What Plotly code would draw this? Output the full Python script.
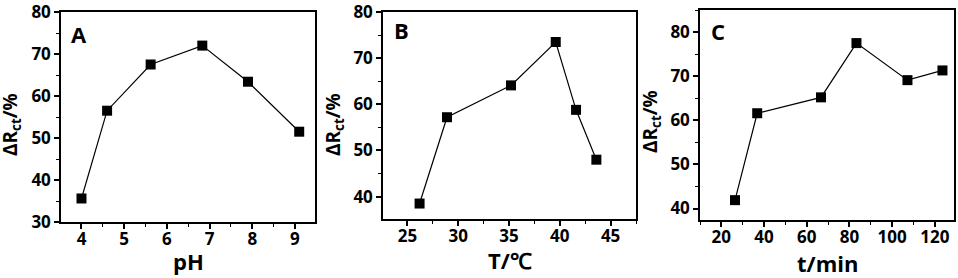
import plotly.graph_objects as go

# Panel A: pH
ph = [4.0, 4.6, 5.62, 6.83, 7.9, 9.1]
ph_val = [35.6, 56.5, 67.5, 72.0, 63.4, 51.5]
# Panel B: temperature
temp = [26.2, 28.9, 35.2, 39.6, 41.6, 43.6]
temp_val = [38.5, 57.2, 64.1, 73.5, 58.8, 48.0]
# Panel C: time
tmin = [26.4, 36.8, 66.7, 83.3, 107.2, 123.6]
tmin_val = [41.9, 61.6, 65.2, 77.5, 69.1, 71.3]

panel_letters = ["A", "B", "C"]
x_titles = ["pH", "T/℃", "t/min"]
y_title = "ΔR<sub>ct</sub>/%"

W, H = 958, 278
FONT = "Open Sans"

fig = go.Figure()

series = [(ph, ph_val), (temp, temp_val), (tmin, tmin_val)]
for i, (xs, ys) in enumerate(series):
    fig.add_trace(go.Scatter(
        x=xs, y=ys, mode="lines+markers",
        line=dict(color="black", width=1.2),
        marker=dict(symbol="square", size=10, color="black"),
        xaxis="x" if i == 0 else f"x{i+1}",
        yaxis="y" if i == 0 else f"y{i+1}",
        showlegend=False,
    ))

def px_x(p):
    return p / W

def px_y(p):
    return 1 - p / H

xdomains = [[px_x(61), px_x(315)], [px_x(383), px_x(636)], [px_x(700), px_x(954)]]
ydomains = [[px_y(222), px_y(12)], [px_y(219), px_y(12)], [px_y(220), px_y(10)]]
xranges = [[3.52, 9.47], [22.6, 47.5], [10, 129]]
yranges = [[30, 80], [35.15, 80], [37.4, 85]]
xdt = [1, 5, 20]
ydt = [10, 10, 10]

axis_common = dict(
    showline=True, linecolor="black", linewidth=1.5, mirror=True,
    ticks="outside", ticklen=5, tickwidth=1.5, tickcolor="black",
    showgrid=False, zeroline=False, automargin=False,
    ticklabeloverflow="allow",
    tickfont=dict(family=FONT, size=17, color="black", weight="bold"),
)

layout = dict(
    width=W, height=H,
    margin=dict(l=0, r=0, t=0, b=0),
    paper_bgcolor="white", plot_bgcolor="white",
    font=dict(family=FONT, color="black"),
)

annotations = []
for i in range(3):
    sx = "" if i == 0 else str(i + 1)
    layout[f"xaxis{sx}"] = dict(
        axis_common,
        domain=xdomains[i], range=xranges[i], dtick=xdt[i],
        anchor=f"y{sx}", ticklabelstandoff=-4,
        minor=dict(dtick=xdt[i] / 2, ticks="outside", ticklen=3, tickwidth=1.2, tickcolor="black"),
    )
    layout[f"yaxis{sx}"] = dict(
        axis_common,
        domain=ydomains[i], range=yranges[i], dtick=ydt[i],
        anchor=f"x{sx}",
        minor=dict(dtick=ydt[i] / 2, ticks="outside", ticklen=3, tickwidth=1.2, tickcolor="black"),
    )

ytitle_x = [11, 334, 651]
ytitle_y = [125, 125, 122]
letter_x = [69, 392, 709]
letter_y = [34, 30, 31]
xtitle_cx = [188, 510, 827]
xtitle_cy = [261, 260, 263]
for i in range(3):
    annotations.append(dict(
        text=y_title, textangle=-90, xref="paper", yref="paper",
        x=px_x(ytitle_x[i]), y=px_y(ytitle_y[i]), xanchor="center", yanchor="middle",
        showarrow=False, font=dict(family=FONT, size=19, color="black", weight="bold"),
    ))
    annotations.append(dict(
        text=x_titles[i], xref="paper", yref="paper",
        x=px_x(xtitle_cx[i]), y=px_y(xtitle_cy[i]), xanchor="center", yanchor="middle",
        showarrow=False, font=dict(family=FONT, size=22, color="black", weight="bold"),
    ))
    annotations.append(dict(
        text=panel_letters[i], xref="paper", yref="paper",
        x=px_x(letter_x[i]), y=px_y(letter_y[i]), xanchor="left", yanchor="middle",
        showarrow=False, font=dict(family=FONT, size=22, color="black", weight="bold"),
    ))

layout["annotations"] = annotations
fig.update_layout(**layout)
fig.write_html("out.html")
